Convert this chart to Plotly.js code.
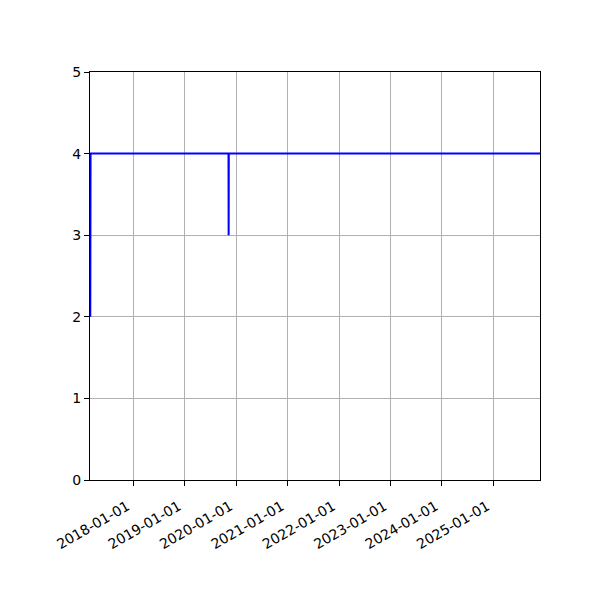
<!DOCTYPE html>
<html>
<head>
<meta charset="utf-8">
<script src="https://cdn.plot.ly/plotly-3.0.1.min.js"></script>
<style>body{margin:0;padding:0;background:#fff}#chart{width:600px;height:600px}</style>
</head>
<body>
<div id="chart"></div>
<script>
const dates = ['2017-03-01', '2017-03-03', '2019-11-08', '2019-11-09', '2019-11-10', '2026-01-01'];
const values = [2, 4, 4, 3, 4, 4];
const tickDates = ['2018-01-01','2019-01-01','2020-01-01','2021-01-01','2022-01-01','2023-01-01','2024-01-01','2025-01-01'];
const tickLabels = ['2018-01-01','2019-01-01','2020-01-01','2021-01-01','2022-01-01','2023-01-01','2024-01-01','2025-01-01'];
const yTicks = [0, 1, 2, 3, 4, 5];

const trace = {
  x: dates, y: values, type: 'scatter', mode: 'lines',
  line: {color: '#0000ff', width: 2}, hoverinfo: 'skip', showlegend: false
};
const layout = {
  width: 600, height: 600,
  margin: {l: 90, r: 60, t: 72, b: 120},
  paper_bgcolor: '#fff', plot_bgcolor: '#fff',
  font: {family: 'DejaVu Sans', size: 13, color: '#000'},
  xaxis: {
    type: 'date', range: ['2017-02-27', '2025-11-29'],
    tickmode: 'array', tickvals: tickDates, ticktext: tickLabels,
    tickangle: -30, ticks: 'outside', ticklen: 5, tickcolor: '#000',
    showline: true, linecolor: '#000', linewidth: 1, mirror: true,
    showgrid: true, gridcolor: '#b0b0b0', gridwidth: 1, zeroline: false,
    ticklabelstandoff: 7, ticklabelshift: -6,
    tickfont: {family: 'DejaVu Sans', size: 14, color: '#000'}
  },
  yaxis: {
    range: [0, 5], tickmode: 'array', tickvals: yTicks,
    ticks: 'outside', ticklen: 5, tickcolor: '#000',
    showline: true, linecolor: '#000', linewidth: 1, mirror: true,
    showgrid: true, gridcolor: '#b0b0b0', gridwidth: 1, zeroline: false,
    tickfont: {family: 'DejaVu Sans', size: 14, color: '#000'}
  }
};
Plotly.newPlot('chart', [trace], layout, {staticPlot: true, displayModeBar: false});
</script>
</body>
</html>
